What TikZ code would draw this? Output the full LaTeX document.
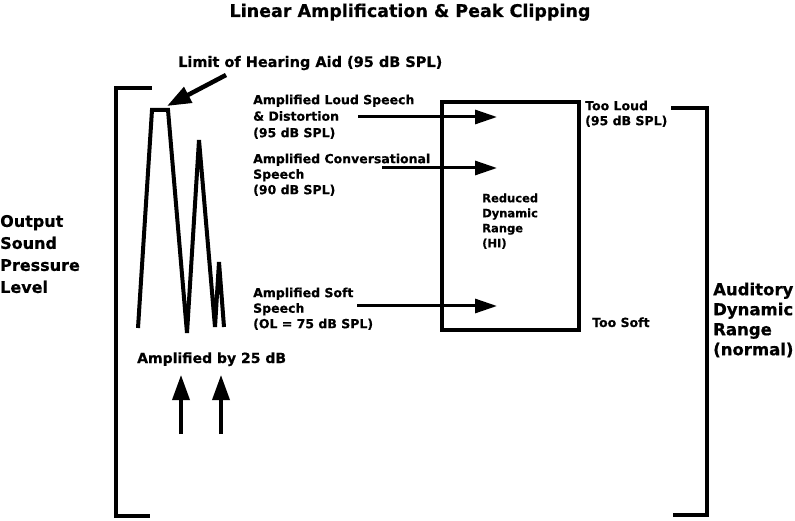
\documentclass[tikz,border=0pt]{standalone}
\usepackage{fontspec}
\setmainfont{DejaVu Sans}[BoldFeatures={FakeBold=0.6}]
\usetikzlibrary{arrows.meta}
\begin{document}
\begin{tikzpicture}[x=1pt,y=-1pt,
  txt/.style={inner sep=0pt, align=left, anchor=north west},
  fs/.style 2 args={font=\bfseries\fontsize{#1}{#2}\selectfont},
  heavy/.style={line width=4pt},
  arr/.style={line width=3pt, -{Triangle[length=22pt,width=14pt]}},
  uparr/.style={line width=3.5pt, -{Triangle[length=25pt,width=17pt]}},
]
\useasboundingbox (0,0) rectangle (795,521);
% title
\node[inner sep=0pt, anchor=base, fs={17.5}{20}] (title) at (410,17) {Linear Amplification \& Peak Clipping};
% left axis label and bracket
\node[txt, fs={16}{22}] (osp) at (0,214.8) {Output\\Sound\\Pressure\\Level};
\draw[heavy, line cap=rect] (150,88) -- (116,88) -- (116,516) -- (148,516);
% waveform
\coordinate (w1) at (138,328);
\coordinate (w2) at (152,110);
\coordinate (w3) at (168,110);
\coordinate (w4) at (187,333);
\coordinate (w5) at (199,140);
\coordinate (w6) at (215,327);
\coordinate (w7) at (219,262);
\coordinate (w8) at (224,327);
\draw[heavy, line join=miter] (w1) -- (w2) -- (w3) -- (w4) -- (w5) -- (w6) -- (w7) -- (w8);
% limit label
\node[inner sep=0pt, anchor=base west, fs={14.5}{17}] (limit) at (178,67) {Limit of Hearing Aid (95 dB SPL)};
\coordinate (limA) at (226,75);
\coordinate (limB) at (167,106);
\draw[line width=4.5pt, -{Triangle[length=24pt,width=17pt]}] (limA) -- (limB);
% amplified by
\node[inner sep=0pt, anchor=base west, fs={14}{17}] (amp) at (137,363) {Amplified by 25 dB};
\coordinate (u1a) at (181,434);
\coordinate (u1b) at (181,375);
\coordinate (u2a) at (221,434);
\coordinate (u2b) at (221,375);
\draw[uparr] (u1a) -- (u1b);
\draw[uparr] (u2a) -- (u2b);
% speech labels
\node[txt, fs={12.5}{16.5}] (loud) at (253,94.5) {Amplified Loud Speech\\\& Distortion\\(95 dB SPL)};
\node[txt, fs={12.5}{15.5}] (conv) at (253,153.5) {Amplified Conversational\\Speech\\(90 dB SPL)};
\node[txt, fs={12.5}{15.5}] (soft) at (253,287.5) {Amplified Soft\\Speech\\(OL = 75 dB SPL)};
% reduced dynamic range box
\node[draw, heavy, minimum width=137pt, minimum height=228pt, inner sep=0pt, anchor=north west] (box) at (440,100) {};
\node[txt, fs={11.5}{15}] (red) at (482,193.3) {Reduced\\Dynamic\\Range\\(HI)};
% arrows
\coordinate (a1s) at (358,117);
\coordinate (a1e) at (497,117);
\coordinate (a2s) at (382,168);
\coordinate (a2e) at (497,168);
\coordinate (a3s) at (357,306);
\coordinate (a3e) at (497,306);
\draw[arr] (a1s) -- (a1e);
\draw[arr] (a2s) -- (a2e);
\draw[arr] (a3s) -- (a3e);
% too loud / too soft
\node[txt, fs={12.5}{15}] (tl) at (585,100.5) {Too Loud\\(95 dB SPL)};
\node[inner sep=0pt, anchor=base west, fs={12.5}{15}] (ts) at (592,327) {Too Soft};
% right bracket
\draw[heavy, line cap=rect] (673,108) -- (707,108) -- (707,515) -- (675,515);
\node[txt, fs={16.5}{20}] (adr) at (713,282.5) {Auditory\\Dynamic\\Range\\(normal)};
\end{tikzpicture}
\end{document}
